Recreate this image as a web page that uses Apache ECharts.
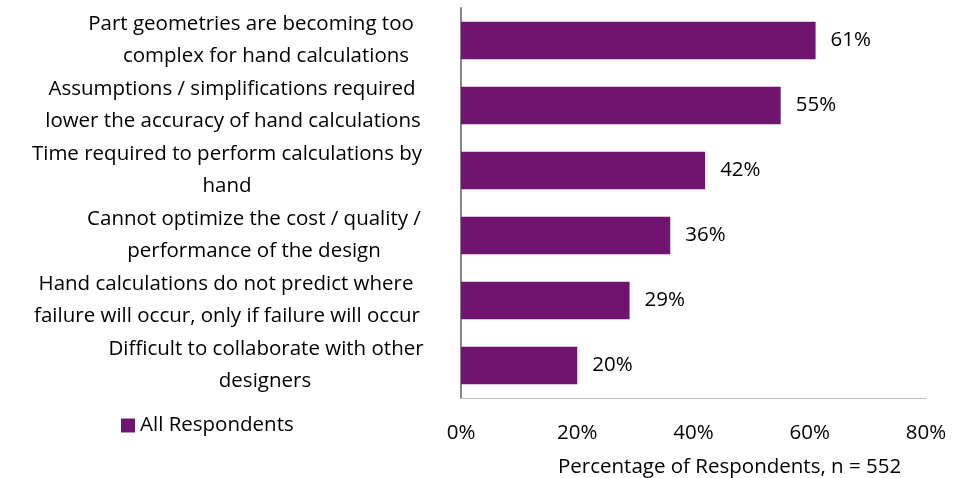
<!DOCTYPE html>
<html><head><meta charset="utf-8">
<script src="https://cdn.jsdelivr.net/npm/echarts@6/dist/echarts.min.js"></script>
<style>html,body{margin:0;padding:0;background:#fff}#c{width:963px;height:478px}</style>
</head><body><div id="c"></div>
<script>
const categories = [
  "Part geometries are becoming too\ncomplex for hand calculations",
  "Assumptions / simplifications required\nlower the accuracy of hand calculations",
  "Time required to perform calculations by\nhand",
  "Cannot optimize the cost / quality /\nperformance of the design",
  "Hand calculations do not predict where\nfailure will occur, only if failure will occur",
  "Difficult to collaborate with other\ndesigners"
];
const values = [61, 55, 42, 36, 29, 20];
const seriesName = "All Respondents";
const xTicks = [0, 20, 40, 60, 80];
const axisTitle = "Percentage of Respondents, n = 552";

// layout only: horizontal shift of each label line (px)
const lineShift = [[19, 34], [0, 1], [-5, -5], [22, 22], [-6, -5], [34, 33]];
const font = "Open Sans";
const fs = 20.5;
const rich = {};
lineShift.forEach((arr, i) => arr.forEach((s, j) => {
  rich['s' + i + '_' + j] = {
    fontFamily: font, fontSize: fs, lineHeight: 32, color: '#000',
    padding: s >= 0 ? [0, 0, 0, 2 * s] : [0, -2 * s, 0, 0]
  };
}));

const chart = echarts.init(document.getElementById('c'));
chart.setOption({
  animation: false,
  textStyle: {fontFamily: font},
  grid: {left: 461, right: 37, top: 8, bottom: 80, containLabel: false},
  title: {text: axisTitle, left: 553, top: 452, textStyle: {fontFamily: font, fontSize: fs, fontWeight: 'normal', color: '#000'}},
  legend: {data: [seriesName], left: 116, top: 410, icon: 'rect', itemWidth: 14, itemHeight: 14, itemGap: 6,
    textStyle: {fontFamily: font, fontSize: fs, color: '#000'}},
  xAxis: {type: 'value', min: xTicks[0], max: xTicks[xTicks.length-1], interval: 20,
    axisLine: {show: true, lineStyle: {color: '#bfbfbf', width: 1}},
    axisTick: {show: false}, splitLine: {show: false},
    axisLabel: {formatter: '{value}%', fontFamily: font, fontSize: fs, color: '#000', margin: 25}},
  yAxis: {type: 'category', data: categories, inverse: true,
    axisLine: {show: true, lineStyle: {color: '#868686', width: 2}},
    axisTick: {show: false},
    axisLabel: {align: 'center', margin: 229, fontFamily: font, fontSize: fs, lineHeight: 32, color: '#000',
      formatter: (val, idx) => val.split('\n').map((t, j) => '{s' + idx + '_' + j + '|' + t + '}').join('\n'),
      rich: rich}},
  series: [{name: seriesName, type: 'bar', data: values, barCategoryGap: '42%',
    itemStyle: {color: '#701470'},
    label: {show: true, position: 'right', distance: 15, formatter: '{c}%', fontFamily: font, fontSize: fs, color: '#000'}}]
});
</script></body></html>
